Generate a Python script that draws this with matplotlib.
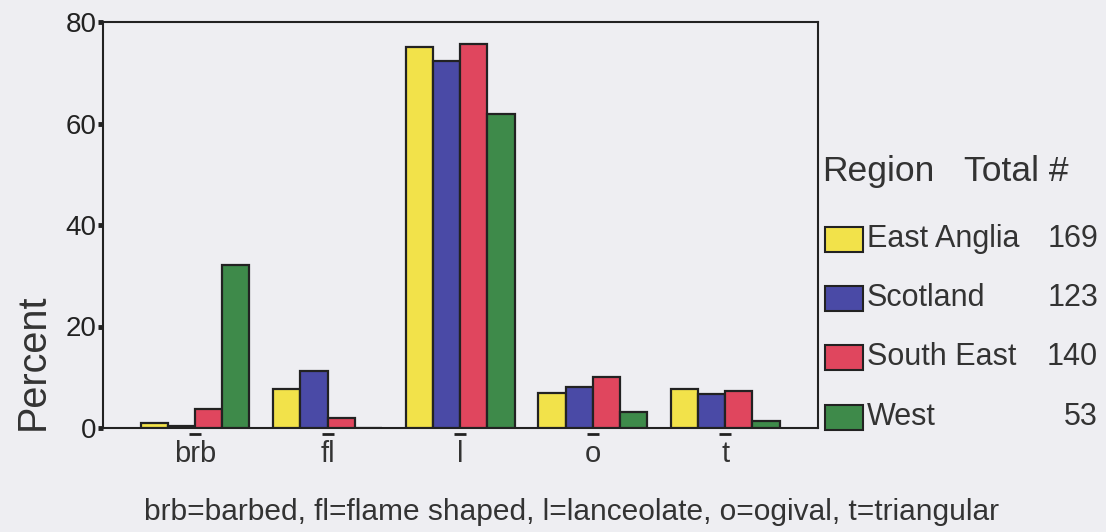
import numpy as np
import matplotlib
matplotlib.use("Agg")
import matplotlib.pyplot as plt
from matplotlib.patches import Rectangle

# data
categories = ["brb", "fl", "l", "o", "t"]
regions = ["East Anglia", "Scotland", "South East", "West"]
totals = [169, 123, 140, 53]
colors = ["#f2e24a", "#4a4aa6", "#e0465e", "#3e8a4a"]

east_anglia = [1.0, 7.7, 75.0, 6.9, 7.7]
scotland = [0.4, 11.2, 72.3, 8.0, 6.7]
south_east = [3.8, 1.9, 75.6, 10.0, 7.3]
west = [32.2, 0.0, 61.8, 3.2, 1.3]
series = [east_anglia, scotland, south_east, west]

caption = "brb=barbed, fl=flame shaped, l=lanceolate, o=ogival, t=triangular"

W, H = 1106, 532
bg = "#eeeef2"
fig = plt.figure(figsize=(W / 100, H / 100), dpi=100, facecolor=bg)
plt.rcParams["font.family"] = ["Liberation Sans", "DejaVu Sans"]

ax = fig.add_axes([103 / W, 1 - 428 / H, (818 - 103) / W, (428 - 22) / H])
ax.set_facecolor(bg)

x = np.arange(len(categories))
bw = 0.205
for i, (vals, c) in enumerate(zip(series, colors)):
    ax.bar(x + (i - 1.5) * bw, vals, bw, color=c, edgecolor="#222222",
           linewidth=1.6, zorder=3)

ax.set_xlim(-0.695, 4.7)
ax.set_ylim(0, 80)
ax.set_yticks([0, 20, 40, 60, 80])
ax.tick_params(axis="y", direction="out", length=3.5, width=3.5,
               labelsize=20, colors="#222222", pad=1)
ax.set_xticks(x)
ax.set_xticklabels(categories, fontsize=21, color="#333333")
ax.tick_params(axis="x", length=0, pad=9)
# small dash marks under the category positions
ax.plot(x, [-1.2] * len(x), linestyle="none", marker="_", ms=9, mew=2,
        color="#222222", clip_on=False)

for s in ax.spines.values():
    s.set_linewidth(1.5)
    s.set_color("#222222")

fig.text(33 / W, 1 - 362 / H, "Percent", rotation=90, fontsize=28.5,
         color="#333333", ha="center", va="center")
fig.text(572 / W, 1 - 512 / H, caption, fontsize=21.5, color="#333333",
         ha="center", va="center")

# legend block
fig.text(822 / W, 1 - 172 / H, "Region", fontsize=25.5,
         color="#333333", ha="left", va="center")
fig.text(1016 / W, 1 - 172 / H, "Total #", fontsize=25.5,
         color="#333333", ha="center", va="center")
row_y = [239, 298, 357, 417]
for name, tot, c, yy in zip(regions, totals, colors, row_y):
    fig.add_artist(Rectangle((825 / W, 1 - (yy + 12.5) / H), 38 / W, 25 / H,
                             transform=fig.transFigure, facecolor=c,
                             edgecolor="#222222", linewidth=1.5))
    fig.text(867 / W, 1 - yy / H, name, fontsize=22, color="#333333",
             ha="left", va="center")
    fig.text(1098 / W, 1 - yy / H, str(tot), fontsize=22, color="#333333",
             ha="right", va="center")

fig.savefig("out.png", dpi=100, facecolor=bg)
